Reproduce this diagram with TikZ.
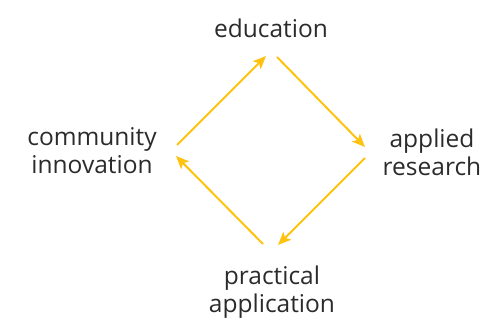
\documentclass[tikz,border=0pt]{standalone}
\usepackage{fontspec}
\setmainfont{Open Sans}
\usetikzlibrary{arrows.meta}
\definecolor{gold}{HTML}{FFC20E}
\definecolor{txt}{HTML}{2B2B2B}
\begin{document}
\begin{tikzpicture}[x=1pt,y=-1pt,
  lbl/.style={text=txt,font=\fontsize{24.5}{28}\selectfont,align=center,inner sep=0pt},
  arr/.style={draw=gold,line width=2pt,-{Stealth[length=13pt,width=11pt,inset=3pt]}}]
\useasboundingbox (0,0) rectangle (485,320);
\node[lbl] (edu) at (271,28) {education};
\node[lbl] (app) at (432,152) {applied\\research};
\node[lbl] (com) at (92,151) {community\\innovation};
\node[lbl] (pra) at (272,292) {practical\\application};
\coordinate (c1) at (177,145);
\coordinate (e1) at (266,56);
\coordinate (e2) at (277,57);
\coordinate (a1) at (365,147);
\coordinate (a2) at (365,158);
\coordinate (p1) at (278,245);
\coordinate (p2) at (263,244);
\coordinate (c2) at (176,156);
\draw[arr] (c1) -- (e1);
\draw[arr] (e2) -- (a1);
\draw[arr] (a2) -- (p1);
\draw[arr] (p2) -- (c2);
\end{tikzpicture}
\end{document}
